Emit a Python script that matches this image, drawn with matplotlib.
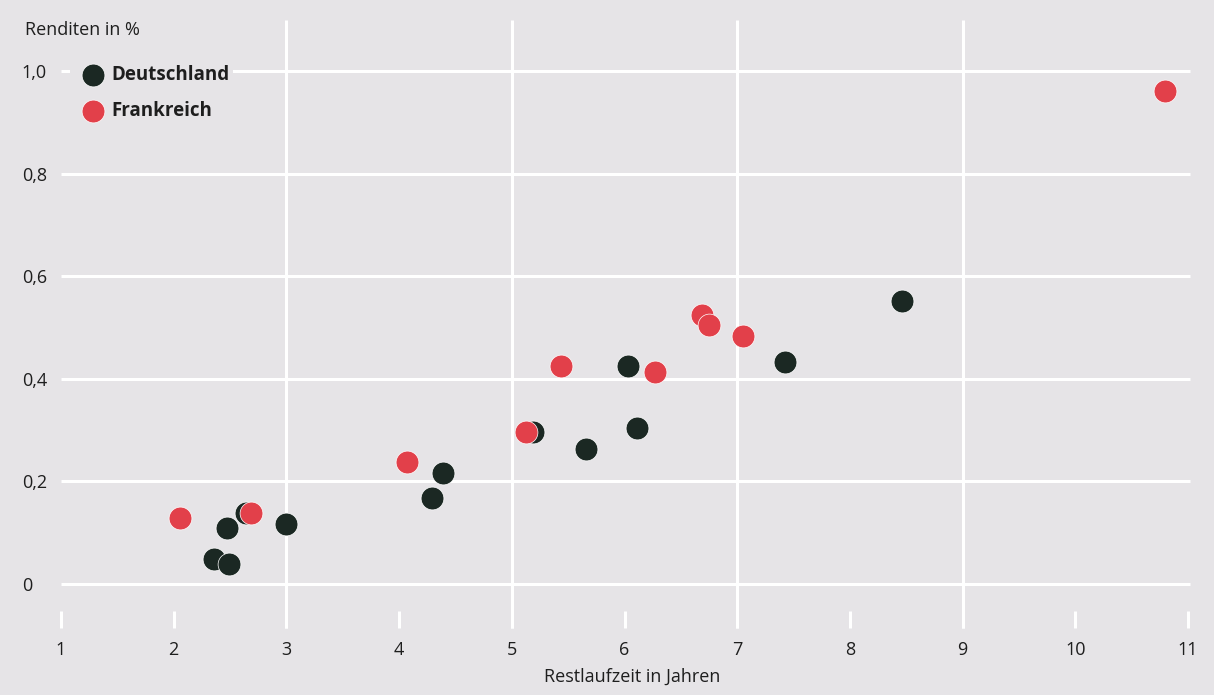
import matplotlib.pyplot as plt
import numpy as np

plt.rcParams['font.family'] = ['Open Sans', 'DejaVu Sans']

# Restlaufzeit (Jahre) und Rendite (%) je Anleihe
de_x = [2.36, 2.49, 2.47, 2.64, 3.00, 4.29, 4.39, 5.19, 5.66, 6.03, 6.11, 7.42, 8.46]
de_y = [0.049, 0.039, 0.109, 0.138, 0.117, 0.168, 0.216, 0.296, 0.263, 0.425, 0.304, 0.433, 0.552]
fr_x = [2.06, 2.69, 4.07, 5.13, 5.44, 6.27, 6.69, 6.75, 7.05, 10.80]
fr_y = [0.129, 0.138, 0.238, 0.296, 0.425, 0.413, 0.524, 0.505, 0.483, 0.961]

xticks = list(range(1, 12))
yticks = [0, 0.2, 0.4, 0.6, 0.8, 1.0]
ylabels = ['0', '0,2', '0,4', '0,6', '0,8', '1,0']
vgrid = [3, 5, 7, 9]

bg = '#e6e4e7'
dark = '#1b2823'
red = '#e2404a'
txt = '#1e1e1e'

W, H = 1214, 695
fig = plt.figure(figsize=(W / 100, H / 100), dpi=100, facecolor=bg)
# axes from px 55..1200 horizontally, 15..640 vertically
ax = fig.add_axes([55 / W, 1 - 640 / H, (1200 - 55) / W, (640 - 15) / H])
ax.set_facecolor(bg)

px_per_x = 112.7
px_per_y = 513.0
ax.set_xlim(1 + (55 - 61) / px_per_x, 1 + (1200 - 61) / px_per_x)
ax.set_ylim((584 - 640) / px_per_y, (584 - 15) / px_per_y)
for s in ax.spines.values():
    s.set_visible(False)

# grid
ax.hlines(yticks, 1, 11.02, color='white', lw=2.2, zorder=1)
ax.vlines(vgrid, -0.086, 1.10, color='white', lw=2.2, zorder=1)
ax.vlines(xticks, -0.086, -0.053, color='white', lw=2.2, zorder=1)

ax.scatter(de_x, de_y, s=270, color=dark, edgecolor='white', linewidth=0.5, zorder=3, label='Deutschland')
ax.scatter(fr_x, fr_y, s=270, color=red, edgecolor='white', linewidth=0.5, zorder=3, label='Frankreich')

ax.set_xticks(xticks)
ax.set_xticklabels([str(t) for t in xticks], fontsize=13, color=txt)
ax.tick_params(axis='x', length=0, pad=1)
ax.set_yticks(yticks)
ax.set_yticklabels(ylabels, fontsize=13, color=txt, ha='left')
ax.tick_params(axis='y', length=0, pad=24)

fig.text(25 / W, 1 - 30 / H, 'Renditen in %', fontsize=13, color=txt, va='center', ha='left')
fig.text(632 / W, 1 - 677 / H, 'Restlaufzeit in Jahren', fontsize=13, color=txt, va='center', ha='center')

leg = ax.legend(loc='upper left', bbox_to_anchor=(70 / W, 1 - 61 / H), bbox_transform=fig.transFigure,
                frameon=True, facecolor=bg, edgecolor='none', framealpha=1, fancybox=False,
                prop={'weight': 'bold', 'size': 13.5}, handletextpad=0.0, labelspacing=0.85,
                borderpad=0.2, markerscale=1.0, borderaxespad=0)
for t in leg.get_texts():
    t.set_color(txt)

fig.savefig('out.png', dpi=100, facecolor=bg)
